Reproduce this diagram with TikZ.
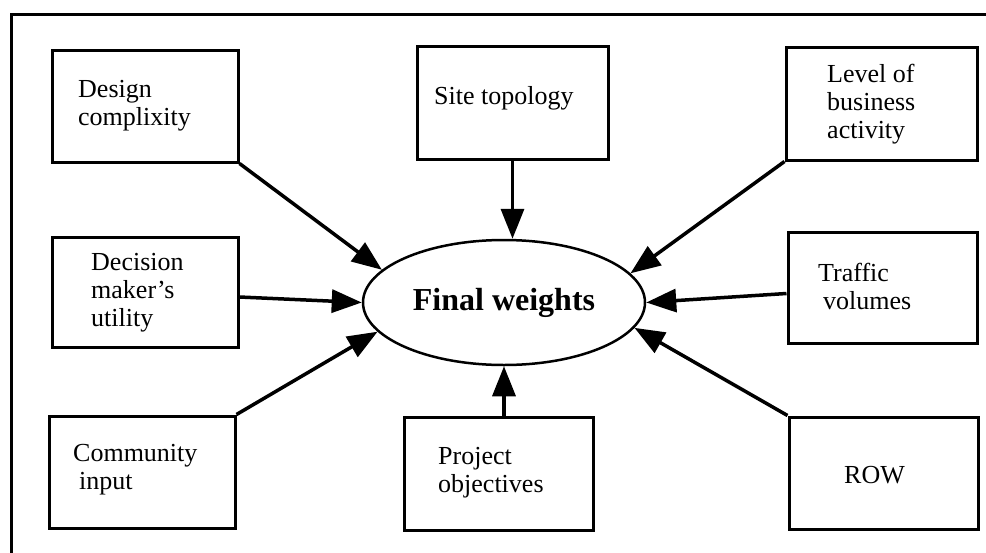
\documentclass[tikz,border=0pt]{standalone}
\usepackage{fontspec}
\setmainfont{Liberation Serif}
\usetikzlibrary{arrows.meta,shapes.geometric}
\tikzset{
  boxnode/.style={draw, line width=3pt, rectangle, inner sep=0pt},
  lbl/.style={anchor=west, inner sep=0pt, align=left, font=\fontsize{26}{28}\selectfont},
  conn/.style={line width=3.5pt, -{Triangle[length=30pt,width=23pt]}},
  framel/.style={line width=3pt},
}
\begin{document}
\begin{tikzpicture}[x=1pt,y=-1pt]
\useasboundingbox (0,0) rectangle (986,552);
% frame (cropped on right and bottom)
\draw[framel] (11,560) -- (11,14) -- (995,14);

% boxes
\node[boxnode, minimum width=186pt, minimum height=112pt] (b1) at (145,106) {};
\node[boxnode, minimum width=191pt, minimum height=113pt] (b2) at (512.5,102.5) {};
\node[boxnode, minimum width=191pt, minimum height=113pt] (b3) at (881.5,103.5) {};
\node[boxnode, minimum width=186pt, minimum height=110pt] (b4) at (145,292) {};
\node[boxnode, minimum width=189pt, minimum height=111pt] (b5) at (882.5,287.5) {};
\node[boxnode, minimum width=186pt, minimum height=112pt] (b6) at (142,472) {};
\node[boxnode, minimum width=189pt, minimum height=113pt] (b7) at (498.5,473.5) {};
\node[boxnode, minimum width=189pt, minimum height=112pt] (b8) at (883.5,473) {};

% texts
\node[lbl] (t1) at (78,106) {Design\\complixity};
\node[lbl] (t2) at (434,98) {Site topology};
\node[lbl] (t3) at (827,104) {Level of\\business\\activity};
\node[lbl] (t4) at (91,293) {Decision\\maker's\\utility};
\node[lbl] (t5) at (818,286) {Traffic\\\hspace*{5pt}volumes};
\node[lbl] (t6) at (73,470) {Community\\\hspace*{6pt}input};
\node[lbl] (t7) at (438,473) {Project\\objectives};
\node[lbl] (t8) at (844,475) {ROW};

% central ellipse
\node[draw, ellipse, line width=2.5pt, minimum width=282pt, minimum height=125pt, inner sep=0pt,
      font=\fontsize{32}{34}\selectfont\bfseries] (ell) at (504,302.5) {Final weights};

% connectors
\draw[conn] (b1.south east) -- (ell.165);
\draw[conn] (b2.south) -- (b2.south |- ell.north);
\draw[conn] (b3.south west) -- (ell.13);
\draw[conn] ([yshift=-5pt]b4.east) -- (ell.west);
\draw[conn] ([yshift=-6pt]b5.west) -- (ell.east);
\draw[conn] (b6.north east) -- (ell.193);
\draw[conn] (ell.south |- b7.north) -- (ell.south);
\draw[conn] (b8.north west) -- (ell.-11);
\end{tikzpicture}
\end{document}
